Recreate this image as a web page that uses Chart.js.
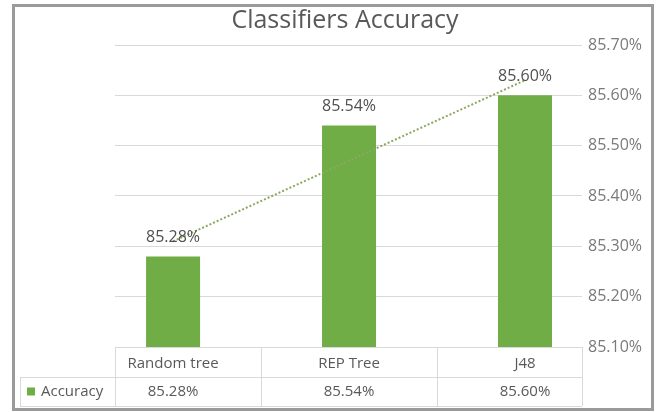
<!DOCTYPE html>
<html>
<head>
<meta charset="utf-8">
<script src="https://cdn.jsdelivr.net/npm/chart.js@4.4.1/dist/chart.umd.min.js"></script>
<style>
    html, body { margin: 0; padding: 0; background: #fff; }
    canvas { display: block; }
</style>
</head>
<body>
<canvas id="accuracyChart" width="664" height="412"></canvas>
<script>
// Data
const categories = ['Random tree', 'REP Tree', 'J48'];
const accuracy = [85.28, 85.54, 85.60];
const trendValues = [85.31, 85.63]; // linear trendline at first and last category
const yTicks = [85.10, 85.20, 85.30, 85.40, 85.50, 85.60, 85.70];
const chartTitle = 'Classifiers Accuracy';

const barColor = '#70AD47';
const textColor = '#595959';
const gridColor = '#D9D9D9';
const fontFamily = "'Open Sans', sans-serif";

const pct = v => v.toFixed(2) + '%';

// Border, title, data labels and the data table underneath
const excelLook = {
    id: 'excelLook',
    beforeDraw(chart) {
        const ctx = chart.ctx;
        ctx.save();
        ctx.fillStyle = '#fff';
        ctx.fillRect(0, 0, chart.width, chart.height);
        ctx.strokeStyle = '#9a9a9a';
        ctx.lineWidth = 3;
        ctx.strokeRect(13.5, 5.5, 639, 404);

        ctx.fillStyle = textColor;
        ctx.font = '25px ' + fontFamily;
        ctx.textAlign = 'center';
        ctx.textBaseline = 'middle';
        ctx.fillText(chartTitle, 345, 21);
        ctx.restore();
    },
    afterDatasetsDraw(chart) {
        const ctx = chart.ctx;
        const area = chart.chartArea;
        const xs = chart.scales.x;
        const bars = chart.getDatasetMeta(0).data;

        ctx.save();
        // labels above bars
        ctx.font = '16px ' + fontFamily;
        ctx.fillStyle = '#505050';
        ctx.textAlign = 'center';
        ctx.textBaseline = 'middle';
        bars.forEach((bar, i) => {
            ctx.fillText(pct(accuracy[i]), bar.x, bar.y - 19);
        });

        // data table
        const top = area.bottom;
        const mid = top + 30;
        const bot = top + 59;
        const left = area.left;
        const right = area.right;
        const legendLeft = 20;
        const cols = [left];
        for (let i = 0; i < categories.length - 1; i++) cols.push(xs.getPixelForValue(i + 0.5));
        cols.push(right);

        ctx.strokeStyle = gridColor;
        ctx.lineWidth = 1;
        ctx.beginPath();
        ctx.moveTo(legendLeft, mid + 0.5); ctx.lineTo(right, mid + 0.5);
        ctx.moveTo(legendLeft, bot + 0.5); ctx.lineTo(right, bot + 0.5);
        ctx.moveTo(legendLeft + 0.5, mid); ctx.lineTo(legendLeft + 0.5, bot);
        cols.forEach(c => {
            const cx = Math.round(c) + 0.5;
            ctx.moveTo(cx, top); ctx.lineTo(cx, bot);
        });
        ctx.stroke();

        ctx.fillStyle = textColor;
        ctx.font = '15px ' + fontFamily;
        categories.forEach((c, i) => {
            const cx = xs.getPixelForValue(i);
            ctx.fillText(c, cx, (top + mid) / 2 + 2);
            ctx.fillText(pct(accuracy[i]), cx, (mid + bot) / 2);
        });

        // legend key
        ctx.fillStyle = barColor;
        ctx.fillRect(27, (mid + bot) / 2 - 4, 8, 8);
        ctx.fillStyle = textColor;
        ctx.textAlign = 'left';
        ctx.fillText('Accuracy', 41, (mid + bot) / 2);
        ctx.restore();
    }
};

new Chart(document.getElementById('accuracyChart').getContext('2d'), {
    type: 'bar',
    data: {
        datasets: [
            {
                type: 'bar',
                label: 'Accuracy',
                data: accuracy.map((v, i) => ({ x: i, y: v })),
                backgroundColor: barColor,
                barPercentage: 0.307,
                categoryPercentage: 1,
                order: 2
            },
            {
                type: 'line',
                label: 'Linear (Accuracy)',
                data: [
                    { x: 0, y: trendValues[0] },
                    { x: categories.length - 1, y: trendValues[1] }
                ],
                borderColor: '#8BA95E',
                borderWidth: 2,
                borderDash: [2, 2],
                pointRadius: 0,
                fill: false,
                order: 1
            }
        ]
    },
    options: {
        responsive: false,
        animation: false,
        layout: {
            padding: { left: 115, right: 0, top: 45, bottom: 65 }
        },
        plugins: {
            legend: { display: false },
            tooltip: { enabled: false }
        },
        scales: {
            x: {
                type: 'linear',
                display: false,
                offset: false,
                min: -0.33,
                max: 2.324,
                afterBuildTicks: scale => {
                    scale.ticks = categories.map((c, i) => ({ value: i }));
                }
            },
            y: {
                position: 'right',
                min: yTicks[0],
                max: yTicks[yTicks.length - 1],
                afterFit: scale => { scale.width = 82; },
                afterBuildTicks: scale => {
                    scale.ticks = yTicks.map(v => ({ value: v }));
                },
                ticks: {
                    color: '#7a7a7a',
                    padding: 6,
                    font: { family: fontFamily, size: 16 },
                    callback: v => pct(v)
                },
                grid: {
                    color: gridColor,
                    drawTicks: false
                },
                border: { display: false }
            }
        }
    },
    plugins: [excelLook]
});
</script>
</body>
</html>
